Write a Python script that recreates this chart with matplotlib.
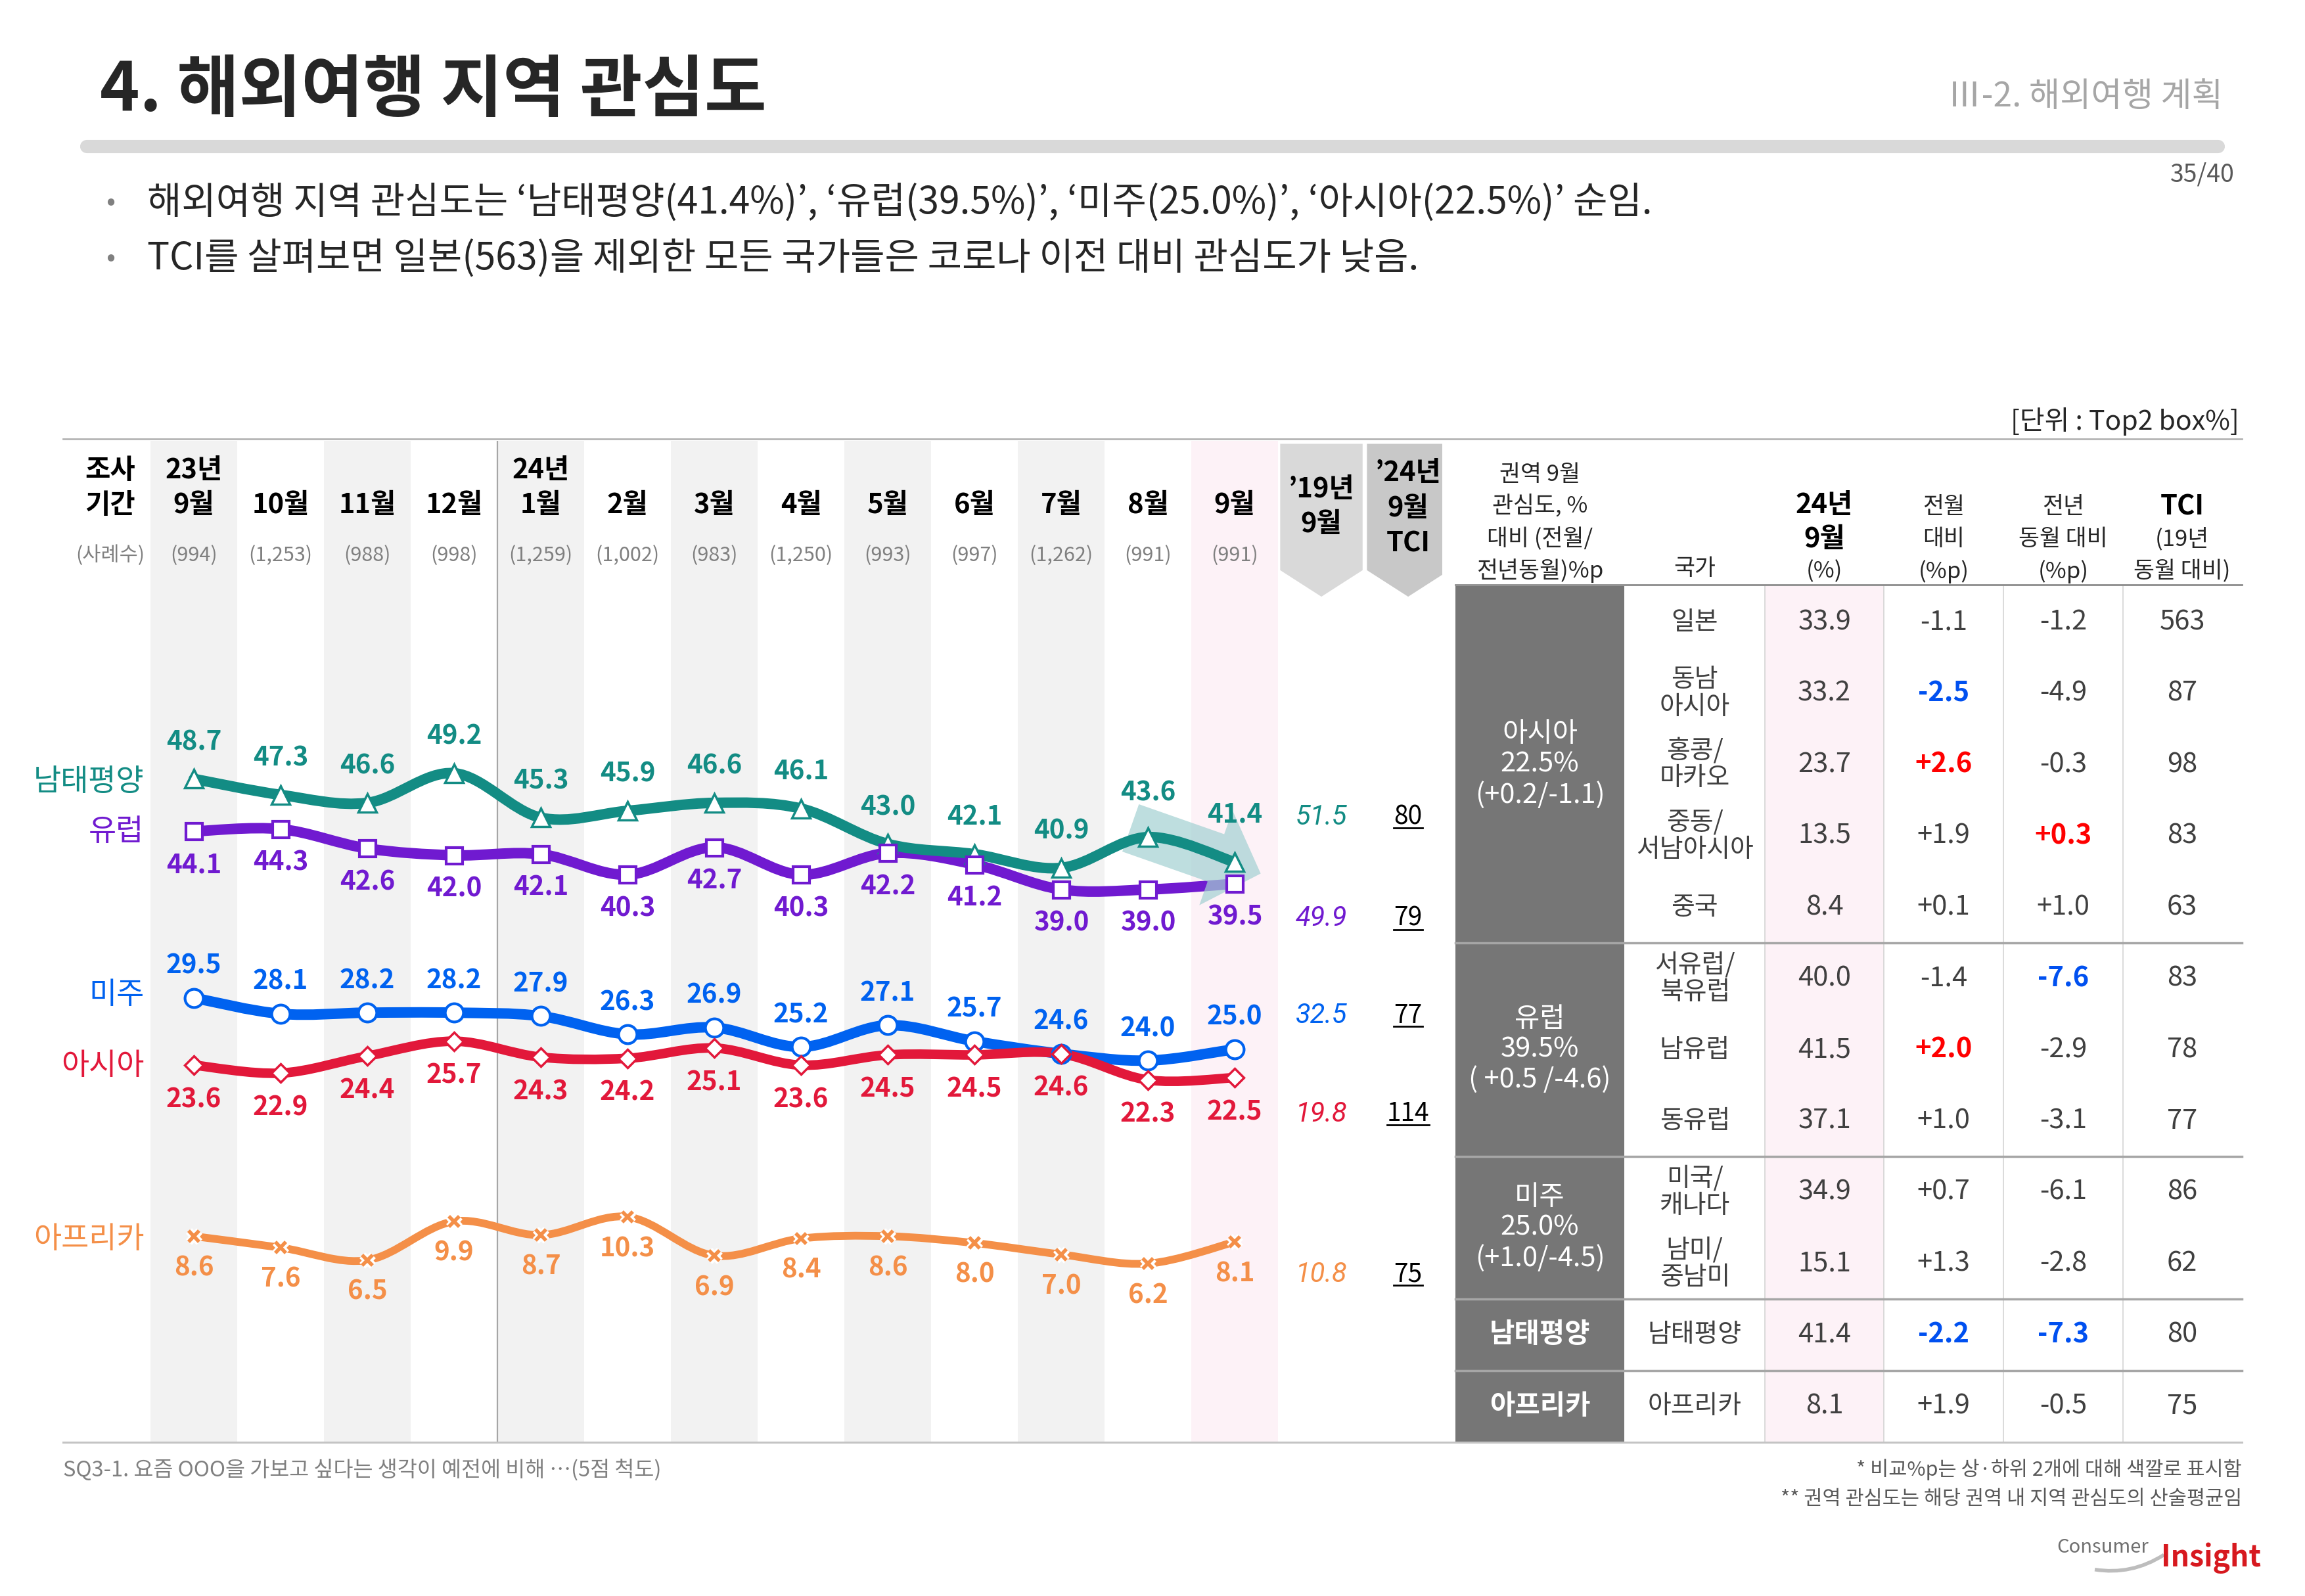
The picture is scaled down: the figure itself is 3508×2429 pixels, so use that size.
import numpy as np
import matplotlib
matplotlib.use("Agg")
import matplotlib.pyplot as plt
from matplotlib.path import Path
from matplotlib.patches import PathPatch, Polygon, Rectangle, FancyArrowPatch
from matplotlib.lines import Line2D
import matplotlib.transforms as mtrans
import matplotlib.patheffects as pe

plt.rcParams['font.family'] = ['Noto Sans CJK KR', 'DejaVu Sans']

# ---- data ----
years = {0: '23년', 4: '24년'}
months = ['9월', '10월', '11월', '12월', '1월', '2월', '3월', '4월', '5월', '6월', '7월', '8월', '9월']
samples = ['(994)', '(1,253)', '(988)', '(998)', '(1,259)', '(1,002)', '(983)', '(1,250)',
           '(993)', '(997)', '(1,262)', '(991)', '(991)']

series_names = ['남태평양', '유럽', '미주', '아시아', '아프리카']
oceania = [48.7, 47.3, 46.6, 49.2, 45.3, 45.9, 46.6, 46.1, 43.0, 42.1, 40.9, 43.6, 41.4]
europe = [44.1, 44.3, 42.6, 42.0, 42.1, 40.3, 42.7, 40.3, 42.2, 41.2, 39.0, 39.0, 39.5]
americas = [29.5, 28.1, 28.2, 28.2, 27.9, 26.3, 26.9, 25.2, 27.1, 25.7, 24.6, 24.0, 25.0]
asia = [23.6, 22.9, 24.4, 25.7, 24.3, 24.2, 25.1, 23.6, 24.5, 24.5, 24.6, 22.3, 22.5]
africa = [8.6, 7.6, 6.5, 9.9, 8.7, 10.3, 6.9, 8.4, 8.6, 8.0, 7.0, 6.2, 8.1]
sep19 = [51.5, 49.9, 32.5, 19.8, 10.8]
tci24 = [80, 79, 77, 114, 75]

regions = ['아시아\n22.5%\n(+0.2/-1.1)', '유럽\n39.5%\n( +0.5 /-4.6)', '미주\n25.0%\n(+1.0/-4.5)',
           '남태평양', '아프리카']
region_rows = [5, 3, 2, 1, 1]
countries = ['일본', '동남\n아시아', '홍콩/\n마카오', '중동/\n서남아시아', '중국', '서유럽/\n북유럽',
             '남유럽', '동유럽', '미국/\n캐나다', '남미/\n중남미', '남태평양', '아프리카']
sep24 = [33.9, 33.2, 23.7, 13.5, 8.4, 40.0, 41.5, 37.1, 34.9, 15.1, 41.4, 8.1]
mom = [-1.1, -2.5, 2.6, 1.9, 0.1, -1.4, 2.0, 1.0, 0.7, 1.3, -2.2, 1.9]
yoy = [-1.2, -4.9, -0.3, 0.3, 1.0, -7.6, -2.9, -3.1, -6.1, -2.8, -7.3, -0.5]
tci = [563, 87, 98, 83, 63, 83, 78, 77, 86, 62, 80, 75]
mom_hi = ['', 'b', 'r', '', '', '', 'r', '', '', '', 'b', '']
yoy_hi = ['', '', '', 'r', '', 'b', '', '', '', '', 'b', '']

# ---- layout helpers (positions given on a 1568 x 1086 grid) ----
W, H = 1568.0, 1086.0
fig = plt.figure(figsize=(35.08, 24.29), dpi=100)


def fx(x):
    return x / W


def fy(y):
    return 1 - y / H


def txt(x, y, s, ha='center', va='center', **kw):
    return fig.text(fx(x), fy(y), s, ha=ha, va=va, **kw)


def hline(x0, x1, y, **kw):
    fig.add_artist(Line2D([fx(x0), fx(x1)], [fy(y), fy(y)], **kw))


def vline(x, y0, y1, **kw):
    fig.add_artist(Line2D([fx(x), fx(x)], [fy(y0), fy(y1)], **kw))


colors = ['#138c84', '#701ad0', '#0062f0', '#e2183a', '#f48f48']
DARK = '#262626'

# ---- title area ----
txt(68, 62, '4. 해외여행 지역 관심도', ha='left', fontsize=74, fontweight='bold', color=DARK)
txt(1512, 66, 'Ⅲ-2. 해외여행 계획', ha='right', fontsize=37, color='#a6a6a6')
hline(59, 1509, 99.5, color='#d9d9d9', lw=14.5, solid_capstyle='round')
txt(1520, 119, '35/40', ha='right', fontsize=27, color='#595959')
bullets = ['해외여행 지역 관심도는 ‘남태평양(41.4%)’, ‘유럽(39.5%)’, ‘미주(25.0%)’, ‘아시아(22.5%)’ 순임.',
           'TCI를 살펴보면 일본(563)을 제외한 모든 국가들은 코로나 이전 대비 관심도가 낮음.']
for k, b in enumerate(bullets):
    txt(75, 138 + 38 * k, '•', fontsize=30, color='#808080')
    txt(100, 138 + 38 * k, b, ha='left', fontsize=41, color=DARK)
txt(1523, 287, '[단위 : Top2 box%]', ha='right', fontsize=29.5, color=DARK)

# ---- chart axes ----
ax = fig.add_axes([fx(43), fy(981), fx(981) - fx(43), fy(300) - fy(981)])
ax.set_xlim((43 - 131.9) / 59.0, (981 - 131.9) / 59.0)
ax.set_ylim(48.7 - (981 - 530) / 7.76, 48.7 + (530 - 300) / 7.76)
ax.axis('off')
xs = np.arange(len(months))
for i in xs:
    if i == len(months) - 1:
        ax.axvspan(i - 0.5, i + 0.5, color='#fdf2f7', zorder=0, lw=0)
    elif i % 2 == 0:
        ax.axvspan(i - 0.5, i + 0.5, color='#f2f2f2', zorder=0, lw=0)
ax.axvline(3.5, color='#a6a6a6', lw=1.6, zorder=1)

btr = mtrans.blended_transform_factory(ax.transData, fig.transFigure)

# column headers
txt(75, 320, '조사', fontsize=30, fontweight='bold', color='black')
txt(75, 344, '기간', fontsize=30, fontweight='bold', color='black')
txt(75, 378, '(사례수)', fontsize=22, color='#808080')
for i, y in years.items():
    ax.text(i, fy(320), y, transform=btr, ha='center', va='center', fontsize=30, fontweight='bold')
for i, m in enumerate(months):
    ax.text(i, fy(344), m, transform=btr, ha='center', va='center', fontsize=30, fontweight='bold')
    ax.text(i, fy(378), samples[i], transform=btr, ha='center', va='center', fontsize=22,
            color='#808080')

# '19 / TCI header arrows
for i, col, lines, ys in [(13, '#d9d9d9', ['’19년', '9월'], [333, 357]),
                          (14, '#c8c8c8', ['’24년', '9월', 'TCI'], [322, 346, 370])]:
    poly = Polygon([(i - 0.475, fy(302)), (i + 0.475, fy(302)), (i + 0.475, fy(388)),
                    (i, fy(406)), (i - 0.475, fy(388))], closed=True, transform=btr,
                   facecolor=col, edgecolor='none', zorder=0)
    ax.add_patch(poly)
    for s, yy in zip(lines, ys):
        ax.text(i, fy(yy), s, transform=btr, ha='center', va='center', fontsize=30,
                fontweight='bold', color='black')


def smooth_path(xv, yv):
    pts = np.column_stack([xv, yv]).astype(float)
    verts = [pts[0]]
    codes = [Path.MOVETO]
    n = len(pts)
    for k in range(n - 1):
        p0 = pts[k - 1] if k > 0 else pts[k]
        p1, p2 = pts[k], pts[k + 1]
        p3 = pts[k + 2] if k + 2 < n else pts[k + 1]
        verts += [p1 + (p2 - p0) / 6.0, p2 - (p3 - p1) / 6.0, p2]
        codes += [Path.CURVE4] * 3
    return Path(verts, codes)


all_series = [oceania, europe, americas, asia, africa]
line_w = [11.5, 11.5, 11.5, 10.5, 8.5]
line_z = [3, 2, 2, 2, 2]
label_off = [-40, 37, -35, 38, 35]
label_nudge = {(0, 11): -48, (0, 12): -52}
left_label_y = [532, 566, 677, 725, 843]

for s, vals in enumerate(all_series):
    c = colors[s]
    ax.add_patch(PathPatch(smooth_path(xs, vals), fill=False, edgecolor=c, lw=line_w[s],
                           capstyle='round', joinstyle='round', zorder=line_z[s]))
    for i, v in enumerate(vals):
        off = label_nudge.get((s, i), label_off[s])
        ax.annotate(f'{v:.1f}', (i, v), xytext=(0, -off), textcoords='offset points',
                    ha='center', va='center', fontsize=29, fontweight='bold', color=c, zorder=6)
    txt(98, left_label_y[s], series_names[s], ha='right', fontsize=33, color=c)

ax.plot(xs, oceania, ls='none', marker='^', ms=20, mfc='white', mec=colors[0], mew=2.5, zorder=5)
ax.plot(xs, europe, ls='none', marker='s', ms=18, mfc='white', mec=colors[1], mew=3, zorder=5)
ax.plot(xs, americas, ls='none', marker='o', ms=20, mfc='white', mec=colors[2], mew=3, zorder=5)
ax.plot(xs, asia, ls='none', marker='D', ms=14, mfc='white', mec=colors[3], mew=2.5, zorder=5)
ax.plot(xs, africa, ls='none', marker='x', ms=12, mec=colors[4], mew=4, zorder=5,
        path_effects=[pe.Stroke(linewidth=9, foreground='white'), pe.Normal()])

# decline arrow on 남태평양
ax.add_patch(FancyArrowPatch((10.8, 44.4), (12.3, 40.4),
                             arrowstyle='simple,tail_width=55,head_width=110,head_length=52',
                             mutation_scale=1, shrinkA=0, shrinkB=0, color='#a3d1d2',
                             alpha=0.7, lw=0, zorder=2.5))

# '19 values and TCI
right_y = [556, 625, 691, 758, 867]
tci_texts = []
for s in range(5):
    ax.text(13, fy(right_y[s]), f'{sep19[s]:.1f}', transform=btr, ha='center', va='center',
            fontsize=30, color=colors[s], family='Roboto', style='italic')
    t = ax.text(14, fy(right_y[s]), f'{tci24[s]}', transform=btr, ha='center', va='center',
                fontsize=28, color='black')
    tci_texts.append(t)

# ---- table ----
T_TOP, T_BOT = 399, 981
row_h = (T_BOT - T_TOP) / len(countries)
col_edges = [990, 1105, 1200.7, 1281.6, 1363, 1444, 1525]
col_c = [(a + b) / 2 for a, b in zip(col_edges[:-1], col_edges[1:])]

fig.add_artist(Rectangle((fx(1200.7), fy(T_BOT)), fx(1281.6) - fx(1200.7), fy(T_TOP) - fy(T_BOT),
                         facecolor='#fdf2f7', edgecolor='none'))
fig.add_artist(Rectangle((fx(990), fy(T_BOT)), fx(1105) - fx(990), fy(T_TOP) - fy(T_BOT),
                         facecolor='#767676', edgecolor='none'))
for xe in col_edges[2:-1]:
    vline(xe, T_TOP, T_BOT, color='#d4d4d4', lw=1.2)

# header
for k, s in enumerate(['권역 9월', '관심도, %', '대비 (전월/', '전년동월)%p']):
    txt(col_c[0], 323 + 21.7 * k, s, fontsize=25, color=DARK)
txt(col_c[1], 387, '국가', fontsize=25, color=DARK)
txt(col_c[2], 344, '24년', fontsize=30, fontweight='bold', color='black')
txt(col_c[2], 367, '9월', fontsize=30, fontweight='bold', color='black')
txt(col_c[2], 389, '(%)', fontsize=25, color=DARK)
for c, lines in [(3, ['전월', '대비', '(%p)']), (4, ['전년', '동월 대비', '(%p)']),
                 (5, ['TCI', '(19년', '동월 대비)'])]:
    for k, s in enumerate(lines):
        bold = (c == 5 and k == 0)
        txt(col_c[c], 345 + 22 * k, s, fontsize=30 if bold else 25,
            fontweight='bold' if bold else 'normal', color='black' if bold else DARK)

hline(990, 1525, T_TOP - 1, color='#8c8c8c', lw=2)

hi_col = {'r': '#ff0000', 'b': '#0050f0', '': '#404040'}
for r in range(len(countries)):
    yc = T_TOP + row_h * (r + 0.5)
    txt(col_c[1], yc, countries[r], fontsize=28, color='#404040', linespacing=1.05)
    txt(col_c[2], yc, f'{sep24[r]:.1f}', fontsize=30, color='#404040')
    txt(col_c[3], yc, f'{mom[r]:+.1f}', fontsize=30, color=hi_col[mom_hi[r]],
        fontweight='bold' if mom_hi[r] else 'normal')
    txt(col_c[4], yc, f'{yoy[r]:+.1f}', fontsize=30, color=hi_col[yoy_hi[r]],
        fontweight='bold' if yoy_hi[r] else 'normal')
    txt(col_c[5], yc, f'{tci[r]}', fontsize=30, color='#404040')

r0 = 0
for g, nrow in enumerate(region_rows):
    yc = T_TOP + row_h * (r0 + nrow / 2.0)
    txt(col_c[0], yc, regions[g], fontsize=30, color='white', linespacing=1.15,
        fontweight='bold' if nrow == 1 else 'normal')
    r0 += nrow
    if r0 < len(countries):
        hline(990, 1525, T_TOP + row_h * r0, color='#a6a6a6', lw=2.5)

# chart frame lines
hline(43, 1525, 298.5, color='#b4b4b4', lw=2)
hline(43, 1525, 981.5, color='#c4c4c4', lw=2.2)

# ---- footer ----
txt(43, 1000, 'SQ3-1. 요즘 OOO을 가보고 싶다는 생각이 예전에 비해 …(5점 척도)', ha='left',
    fontsize=23.5, color='#808080')
txt(1525, 1000, '* 비교%p는 상·하위 2개에 대해 색깔로 표시함', ha='right', fontsize=22, color='#595959')
txt(1525, 1020, '** 권역 관심도는 해당 권역 내 지역 관심도의 산술평균임', ha='right', fontsize=22,
    color='#595959')
txt(1399, 1053, 'Consumer', ha='left', fontsize=21, color='#707070')
txt(1470, 1060, 'Insight', ha='left', fontsize=32, fontweight='bold', color='#d7191f')
swoosh = Path([(fx(1425), fy(1068)), (fx(1450), fy(1072)), (fx(1472), fy(1058))],
              [Path.MOVETO, Path.CURVE3, Path.CURVE3])
fig.add_artist(PathPatch(swoosh, fill=False, edgecolor='#bdbdbd', lw=4,
                         transform=fig.transFigure))

# underline TCI values
fig.canvas.draw()
rend = fig.canvas.get_renderer()
inv = fig.transFigure.inverted()
for t in tci_texts:
    bb = t.get_window_extent(renderer=rend)
    (x0, y0), (x1, y1) = inv.transform([(bb.x0, bb.y0), (bb.x1, bb.y1)])
    yl = y0 + (y1 - y0) * 0.08
    fig.add_artist(Line2D([x0, x1], [yl, yl], color='black', lw=2))

fig.savefig('out.png', dpi=100)
